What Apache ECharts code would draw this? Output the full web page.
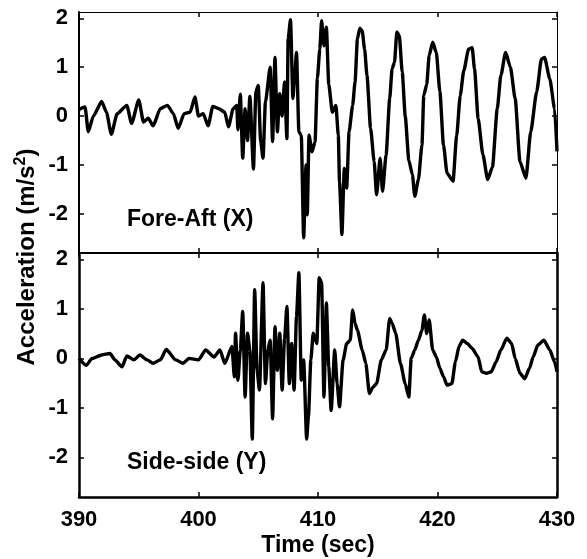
<!DOCTYPE html>
<html>
<head>
<meta charset="utf-8">
<script src="https://cdn.jsdelivr.net/npm/echarts@6/dist/echarts.min.js"></script>
<style>html,body{margin:0;padding:0;background:#fff;}#c{width:587px;height:559px;}</style>
</head>
<body>
<div id="c"></div>
<script>
// Fore-Aft (X) acceleration, m/s^2
var tX = [390.0,390.1,390.5,390.78,391.2,391.9,392.3,392.7,393.2,394.0,394.4,395.0,395.4,395.8,396.2,396.8,397.4,397.9,398.3,398.8,399.3,399.7,400.0,400.4,400.8,401.2,401.7,402.2,402.5,402.9,403.2,403.3,403.5,403.7,403.9,404.1,404.3,404.6,404.8,405.0,405.2,405.4,405.6,406.0,406.2,406.4,406.6,406.8,407.0,407.2,407.4,407.5,407.7,407.9,408.05,408.2,408.4,408.6,408.8,409.0,409.1,409.25,409.5,409.75,409.95,410.15,410.3,410.5,410.7,410.9,411.2,411.5,411.7,411.8,412.0,412.2,412.4,412.6,412.9,413.1,413.3,413.5,413.7,413.9,414.1,414.4,414.7,414.9,415.2,415.4,415.7,416.0,416.2,416.4,416.6,416.8,417.05,417.3,417.6,417.9,418.1,418.4,418.7,418.85,419.1,419.3,419.6,419.9,420.2,420.5,420.8,421.3,421.6,421.9,422.2,422.6,422.9,423.1,423.4,423.8,424.2,424.6,425.0,425.3,425.7,426.1,426.5,426.9,427.4,427.8,428.3,428.7,428.96,429.4,429.8,430.0];
var vX = [0.12,0.15,0.19,-0.32,0.0,0.3,0.08,-0.37,0.05,0.22,-0.15,0.33,-0.12,-0.04,-0.2,0.15,0.22,0.05,-0.25,0.05,0.08,0.39,0.0,0.05,-0.2,0.2,0.15,0.08,-0.22,0.15,0.22,-0.28,0.45,-0.86,0.15,-0.5,0.4,-1.08,0.5,0.63,-0.51,-0.86,0.29,1.0,-0.52,1.2,-0.32,0.46,0.0,0.7,-0.46,1.58,1.97,0.36,0.83,1.3,-0.32,-0.39,-2.49,-1.0,-2.02,-0.39,-0.73,-0.53,0.78,1.37,1.95,1.44,1.82,0.65,0.08,0.22,-0.39,-1.34,-2.42,-1.07,-1.47,-0.32,0.22,0.7,1.58,1.8,1.74,1.37,0.83,-0.25,-0.93,-1.61,-0.86,-1.54,-0.79,0.36,0.97,1.1,1.72,1.65,0.9,0.0,-0.9,-1.2,-1.64,-1.3,-0.59,0.42,0.65,1.24,1.51,1.3,0.5,-0.59,-1.17,-1.33,-0.41,0.42,0.93,1.37,1.4,0.96,-0.05,-0.79,-1.3,-1.04,0.15,0.83,1.3,1.0,0.36,-0.93,-1.27,-0.32,0.5,1.17,1.2,0.76,0.15,-0.72];

// Side-side (Y) acceleration, m/s^2
var tY = [390.0,390.6,391.1,391.9,392.6,393.0,393.6,394.0,394.6,395.1,395.7,396.2,396.8,397.3,398.1,398.7,399.2,400.0,400.6,401.3,401.8,402.2,402.8,403.0,403.1,403.3,403.5,403.7,403.9,404.1,404.3,404.5,404.7,404.9,405.1,405.4,405.6,405.8,406.0,406.2,406.4,406.6,406.8,407.0,407.2,407.4,407.6,407.8,408.0,408.2,408.4,408.6,408.8,409.05,409.2,409.4,409.6,409.9,410.1,410.3,410.5,410.7,410.9,411.1,411.4,411.6,411.8,412.1,412.4,412.7,412.9,413.1,413.3,413.7,414.0,414.3,414.6,414.9,415.3,415.7,416.0,416.2,416.5,416.9,417.3,417.6,417.8,418.1,418.4,418.7,418.9,419.1,419.3,419.6,419.9,420.2,420.5,420.8,421.2,421.5,421.8,422.1,422.5,422.9,423.4,423.7,424.1,424.5,424.9,425.3,425.8,426.2,426.5,426.9,427.3,427.7,428.0,428.4,428.9,429.4,429.8,430.0];
var vY = [0.0,-0.14,0.0,0.07,0.1,-0.03,-0.17,0.05,-0.03,0.07,-0.03,-0.1,-0.03,0.18,-0.03,-0.1,0.0,-0.03,0.17,0.03,0.17,-0.1,0.24,-0.37,0.51,-0.44,0.17,0.95,-0.78,0.51,0.17,-1.63,1.39,-0.24,-0.64,1.53,-0.51,0.17,0.37,-1.22,0.64,-0.24,0.51,-0.64,0.4,1.05,-0.51,0.3,-0.64,0.85,1.73,-0.44,-0.03,-1.63,-1.18,-0.03,0.51,0.3,1.63,1.53,-0.78,1.12,-0.17,-1.05,0.17,-0.51,-0.98,-0.03,0.3,0.37,0.98,0.71,0.57,0.17,-0.1,-0.71,-0.58,-0.51,-0.03,0.17,0.81,0.71,0.51,-0.1,-0.51,-0.78,0.0,0.17,0.37,0.57,0.88,0.5,0.78,0.17,0.03,-0.2,-0.37,-0.54,-0.51,-0.07,0.24,0.37,0.3,0.2,0.03,-0.27,-0.3,-0.27,-0.07,0.17,0.41,0.3,0.0,-0.3,-0.41,-0.2,0.03,0.27,0.37,0.17,-0.07,-0.27];

var xTicks = [390, 400, 410, 420, 430];
var yTicks = [-2, -1, 0, 1, 2];

function zip(t, v) { var d = []; for (var i = 0; i < t.length; i++) d.push([t[i], v[i]]); return d; }

var FONT = 'Liberation Sans, Arial, sans-serif';
var chart = echarts.init(document.getElementById('c'));

function xAx(grid, pos, showLabel, lw) {
  return {
    type: 'value', gridIndex: grid, position: pos, min: 390, max: 430, interval: 10,
    axisLine: { show: true, onZero: false, lineStyle: { color: '#000', width: lw } },
    axisTick: { show: true, inside: true, length: 5, lineStyle: { color: '#000', width: 1.5 } },
    axisLabel: { show: showLabel, margin: 12, color: '#000', fontFamily: FONT, fontWeight: 'bold', fontSize: 22,
      formatter: function (v) { return xTicks.indexOf(v) >= 0 ? String(v) : ''; } },
    splitLine: { show: false }
  };
}
function yAx(grid, pos, showLabel, lw) {
  return {
    type: 'value', gridIndex: grid, position: pos, min: -2.8, max: 2.13,
    axisLine: { show: true, onZero: false, lineStyle: { color: '#000', width: lw } },
    axisTick: { show: true, inside: true, length: 5, customValues: yTicks, lineStyle: { color: '#000', width: 1.5 } },
    axisLabel: { show: showLabel, margin: 11, color: '#000', fontFamily: FONT, fontWeight: 'bold', fontSize: 22,
      customValues: yTicks, formatter: function (v) { return String(v); } },
    splitLine: { show: false }
  };
}

chart.setOption({
  animation: false,
  backgroundColor: '#fff',
  grid: [
    { left: 79, top: 12, width: 478, height: 241 },
    { left: 79, top: 253, width: 478, height: 244 }
  ],
  xAxis: [
    xAx(0, 'bottom', false, 2), xAx(0, 'top', false, 1),
    xAx(1, 'bottom', true, 2.5), xAx(1, 'top', false, 2)
  ],
  yAxis: [
    yAx(0, 'left', true, 2), yAx(0, 'right', false, 1),
    yAx(1, 'left', true, 2.5), yAx(1, 'right', false, 2.5)
  ],
  series: [
    { type: 'line', xAxisIndex: 0, yAxisIndex: 0, data: zip(tX, vX), showSymbol: false, smooth: 0.2, smoothMonotone: 'x',
      lineStyle: { color: '#000', width: 3.4 }, clip: true },
    { type: 'line', xAxisIndex: 2, yAxisIndex: 2, data: zip(tY, vY), showSymbol: false, smooth: 0.2, smoothMonotone: 'x',
      lineStyle: { color: '#000', width: 3.4 }, clip: true }
  ],
  graphic: [
    { type: 'text', left: 127, top: 208, style: { text: 'Fore-Aft (X)', fill: '#000', font: 'bold 23px ' + FONT } },
    { type: 'text', left: 127, top: 451, style: { text: 'Side-side (Y)', fill: '#000', font: 'bold 23px ' + FONT } },
    { type: 'text', x: 318, y: 546, style: { text: 'Time (sec)', fill: '#000', font: 'bold 23px ' + FONT,
      textAlign: 'center', textVerticalAlign: 'middle' } },
    { type: 'text', x: 26, y: 257, rotation: Math.PI / 2,
      style: { text: '{a|Acceleration (m/s}{b|2}{a|)}', textAlign: 'center', textVerticalAlign: 'middle',
        rich: { a: { fontFamily: FONT, fontWeight: 'bold', fontSize: 24, fill: '#000', color: '#000', verticalAlign: 'bottom' },
                b: { fontFamily: FONT, fontWeight: 'bold', fontSize: 16, fill: '#000', color: '#000', verticalAlign: 'top', padding: [0, 0, 10, 0] } } } }
  ]
});
</script>
</body>
</html>
